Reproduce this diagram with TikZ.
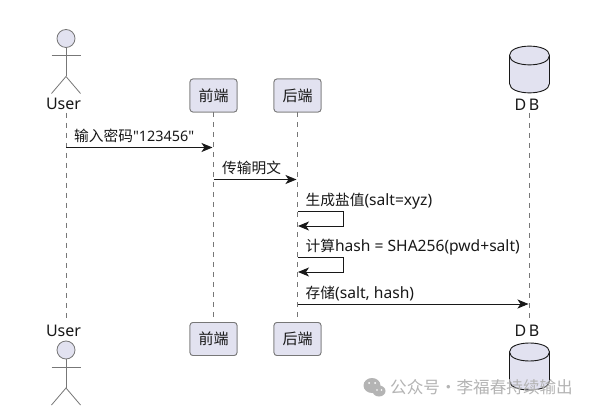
\documentclass[tikz,border=0pt]{standalone}
\usepackage{fontspec}
\newfontfamily\ncjk{Noto Sans CJK SC}
\newfontfamily\nsans{Noto Sans}
\newcommand{\cj}[1]{{\ncjk\fontsize{14.7}{17}\selectfont #1}}
\usetikzlibrary{arrows.meta,shapes.geometric}
\definecolor{pfill}{HTML}{E2E2F0}
\definecolor{pline}{HTML}{777777}
\definecolor{ink}{HTML}{181818}
\definecolor{wm}{HTML}{B4B4B4}
\tikzset{
  px/.style={x=1pt,y=-1pt},
  lbl/.style={font=\nsans\fontsize{15.6}{17}\selectfont,text=ink,inner sep=0pt},
  actlbl/.style={font=\nsans\fontsize{16}{18}\selectfont,text=ink,inner sep=0pt},
  msglbl/.style={lbl,anchor=base west},
  partbox/.style={draw=pline,fill=pfill,rounded corners=3pt,line width=0.8pt,minimum width=47pt,minimum height=33pt,inner sep=0pt,font=\ncjk\fontsize{15}{17}\selectfont,text=ink},
  lifeline/.style={draw=pline,line width=0.7pt,dash pattern=on 5pt off 5pt},
  msg/.style={draw=ink,line width=0.9pt,-{Stealth[length=11pt,width=9pt,inset=3pt]}},
  actorline/.style={draw=pline,line width=0.8pt},
  actorhead/.style={circle,draw=pline,fill=pfill,line width=0.8pt,minimum size=18pt,inner sep=0pt},
  dbline/.style={draw=ink,line width=0.9pt,fill=pfill}
}
\newcommand{\myactor}[2]{% head-centre x,y
  \draw[actorline] (#1,#2+9) -- (#1,#2+38);
  \draw[actorline] (#1-14.5,#2+17) -- (#1+14.5,#2+17);
  \draw[actorline] (#1-14.5,#2+55) -- (#1,#2+38) -- (#1+14.5,#2+55);
}
\newcommand{\mydb}[4]{% cx, top, ellipse height, bottom
  \draw[dbline] (#1-20,#2+#3/2) .. controls (#1-20,#2-1) and (#1+20,#2-1) .. (#1+20,#2+#3/2)
     -- (#1+20,#4-#3/2) .. controls (#1+20,#4+1) and (#1-20,#4+1) .. (#1-20,#4-#3/2) -- cycle;
  \draw[draw=ink,line width=0.9pt] (#1-20,#2+#3/2) .. controls (#1-20,#2+#3+1) and (#1+20,#2+#3+1) .. (#1+20,#2+#3/2);
}
\begin{document}
\begin{tikzpicture}[px]
\useasboundingbox (0,0) rectangle (593,411);
\fill[white] (0,0) rectangle (593,411);
% participants
\node[actlbl] (usert) at (63.5,104) {User};
\node[actlbl] (userb) at (63.5,331) {User};
\node[partbox] (fet) at (213.5,95.5) {前端};
\node[partbox] (feb) at (213.5,339) {前端};
\node[partbox] (bet) at (297.5,95.5) {后端};
\node[partbox] (beb) at (297.5,339) {后端};
\node[actlbl] (dbt) at (527,105) {D\hspace{2.5pt}B};
\node[actlbl] (dbb) at (527,331) {D\hspace{2.5pt}B};
% lifelines
\coordinate (ua) at (66,113);
\coordinate (ub) at (66,322);
\coordinate (da) at (529.5,113);
\coordinate (db) at (529.5,322);
\draw[lifeline] (ua) -- (ub);
\draw[lifeline] (fet) -- (feb);
\draw[lifeline] (bet) -- (beb);
\draw[lifeline] (da) -- (db);
\node[partbox] at (fet) {前端};
\node[partbox] at (feb) {前端};
\node[partbox] at (bet) {后端};
\node[partbox] at (beb) {后端};
% actors
\myactor{66}{38.5}
\node[actorhead] (headt) at (66,38.5) {};
\myactor{66}{350}
\node[actorhead] (headb) at (66,350) {};
% databases
\mydb{529.5}{44}{23}{95}
\mydb{529.5}{341}{22}{392}
% messages
\coordinate (m1a) at (66,147.5);
\coordinate (m1b) at (212.5,147.5);
\coordinate (m2a) at (213.5,179.5);
\coordinate (m2b) at (296.5,179.5);
\coordinate (m3a) at (297.5,211.5);
\coordinate (m3c) at (343.5,211.5);
\coordinate (m3d) at (343.5,226);
\coordinate (m3b) at (298,226);
\coordinate (m4a) at (297.5,257.5);
\coordinate (m4c) at (343.5,257.5);
\coordinate (m4d) at (343.5,272);
\coordinate (m4b) at (298,272);
\coordinate (m5a) at (297.5,304);
\coordinate (m5b) at (528.5,304);
\draw[msg] (m1a) -- (m1b);
\draw[msg] (m2a) -- (m2b);
\draw[msg] (m3a) -- (m3c) -- (m3d) -- (m3b);
\draw[msg] (m4a) -- (m4c) -- (m4d) -- (m4b);
\draw[msg] (m5a) -- (m5b);
\node[msglbl,font=\nsans\fontsize{14.4}{17}\selectfont] (l1) at (74,141.5) {\cj{输入密码}"123456"};
\node[msglbl] (l2) at (222,173.5) {\cj{传输明文}};
\node[msglbl] (l3) at (305.5,205.5) {\cj{生成盐值}(salt=xyz)};
\node[msglbl] (l4) at (305.5,251.5) {\cj{计算}hash = SHA256(pwd+salt)};
\node[msglbl] (l5) at (305.5,298) {\cj{存储}(salt, hash)};
% watermark
\fill[wm] (372,385.5) ellipse (8.5 and 7.5);
\fill[wm] (379,391) ellipse (6.5 and 5.5);
\fill[white] (369,383) circle (1) (375,383) circle (1) (377,390) circle (0.8) (381.5,390) circle (0.8);
\node[font=\ncjk\fontsize{16.6}{18}\selectfont,text=wm,anchor=west,inner sep=0pt] (wmt) at (390,387) {公众号·李福春持续输出};
\end{tikzpicture}
\end{document}
